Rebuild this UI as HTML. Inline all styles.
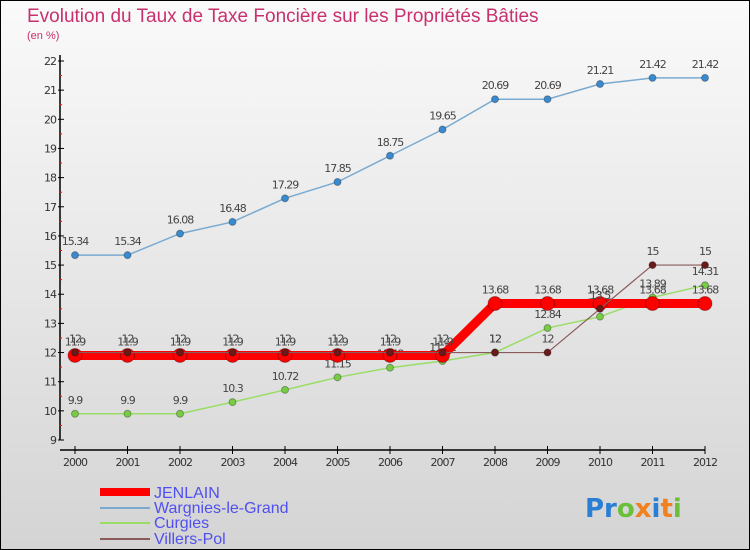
<!DOCTYPE html>
<html><head><meta charset="utf-8"><style>
body{margin:0;}
#wrap{width:750px;height:550px;position:relative;overflow:hidden;}
svg{display:block;font-family:"DejaVu Sans","Liberation Sans",sans-serif;}
</style></head><body>
<div id="wrap">
<svg id="chart" width="750" height="550" viewBox="0 0 750 550">
<defs><linearGradient id="bg" x1="0" y1="0" x2="0" y2="1"><stop offset="0" stop-color="#fafafa"/><stop offset="1" stop-color="#d4d4d4"/></linearGradient></defs>
<rect x="0.5" y="0.5" width="749" height="549" fill="url(#bg)" stroke="#000"/>
<text x="27" y="22" font-size="19" fill="#c8306e" font-family="Liberation Sans, sans-serif">Evolution du Taux de Taxe Foncière sur les Propriétés Bâties</text>
<text x="27" y="39" font-size="11" fill="#c8306e" font-family="Liberation Sans, sans-serif">(en %)</text>
<g id="axes"></g><g id="series"></g>
<g font-family="Liberation Sans, sans-serif">
<line x1="100" y1="492" x2="150" y2="492" stroke="#f00" stroke-width="8"/>
<text x="154" y="498" font-size="16" fill="#5050f0">JENLAIN</text>
<line x1="100" y1="508" x2="150" y2="508" stroke="#7aaad0" stroke-width="2"/>
<text x="154" y="513" font-size="16" fill="#5050f0">Wargnies-le-Grand</text>
<line x1="100" y1="523" x2="150" y2="523" stroke="#99dd66" stroke-width="2"/>
<text x="154" y="528" font-size="16" fill="#5050f0">Curgies</text>
<line x1="100" y1="539" x2="150" y2="539" stroke="#8b5a5a" stroke-width="2"/>
<text x="154" y="544" font-size="16" fill="#5050f0">Villers-Pol</text>
</g>
<text x="585" y="517" font-size="26" font-weight="bold"><tspan fill="#2a7fd4">Pr</tspan><tspan fill="#6cbf3a">o</tspan><tspan fill="#f08020">x</tspan><tspan fill="#2a7fd4">i</tspan><tspan fill="#f08020">t</tspan><tspan fill="#6cbf3a">i</tspan></text>
</svg></div>
<script>
const years=[2000,2001,2002,2003,2004,2005,2006,2007,2008,2009,2010,2011,2012];
const yTicks=[9,10,11,12,13,14,15,16,17,18,19,20,21,22];
const jenlain=[11.9,11.9,11.9,11.9,11.9,11.9,11.9,11.9,13.68,13.68,13.68,13.68,13.68];
const wargnies=[15.34,15.34,16.08,16.48,17.29,17.85,18.75,19.65,20.69,20.69,21.21,21.42,21.42];
const curgies=[9.9,9.9,9.9,10.3,10.72,11.15,11.48,11.71,12,12.84,13.23,13.89,14.31];
const villers=[12,12,12,12,12,12,12,12,12,12,13.5,15,15];
const NS='http://www.w3.org/2000/svg';
const xS=i=>75+i*52.5;
const yS=v=>440-(v-9)*(379/13);
function mk(t,a,p){const e=document.createElementNS(NS,t);for(const k in a)e.setAttribute(k,a[k]);p.appendChild(e);return e;}
const ax=document.getElementById('axes');
let e=mk('line',{x1:60,y1:55,x2:60,y2:440,stroke:'#000','stroke-width':1.5},ax);


e=mk('line',{x1:60,y1:450,x2:705,y2:450,stroke:'#000','stroke-width':1.5},ax);


yTicks.forEach(v=>{
 mk('line',{x1:58,y1:yS(v),x2:64,y2:yS(v),stroke:'#000'},ax);
 if(v<22)mk('line',{x1:59,y1:yS(v+0.5),x2:62,y2:yS(v+0.5),stroke:'#f00'},ax);
 const t=mk('text',{x:56,y:yS(v)+4,'font-size':11,'text-anchor':'end',fill:'#333','letter-spacing':'-1'},ax);
 t.textContent=v;
 
 
});
years.forEach((y,i)=>{
 mk('line',{x1:xS(i),y1:446,x2:xS(i),y2:454,stroke:'#000'},ax);
 const t=mk('text',{x:xS(i),y:466,'font-size':11,'text-anchor':'middle',fill:'#333','letter-spacing':'-1'},ax);
 t.textContent=y;
 
 
});
const sg=document.getElementById('series');
function draw(vals,name,color,w,r,fill){
 const g=mk('g',{},sg);
 
 
 const p=mk('polyline',{points:vals.map((v,i)=>xS(i)+','+yS(v)).join(' '),fill:'none',stroke:color,'stroke-width':w},g);
 
 
 vals.forEach((v,i)=>{
  const c=mk('circle',{cx:xS(i),cy:yS(v),r:r,fill:fill,stroke:'rgba(0,0,0,0.3)'},g);
  
  
  const t=mk('text',{x:xS(i),y:yS(v)-10,'font-size':11,'text-anchor':'middle',fill:'#444','letter-spacing':'-1'},g);
  t.textContent=v;
  
  
 });
}
draw(wargnies,'wargnies','#7aaad0',1.5,3.5,'#3a8ad0');
draw(curgies,'curgies','#99dd66',1.5,3.5,'#77cc44');
draw(jenlain,'jenlain','#f00',9,7,'#f00');
draw(villers,'villers-pol','#8b5a5a',1.2,3.5,'#6a1a1a');
</script>
</body></html>
